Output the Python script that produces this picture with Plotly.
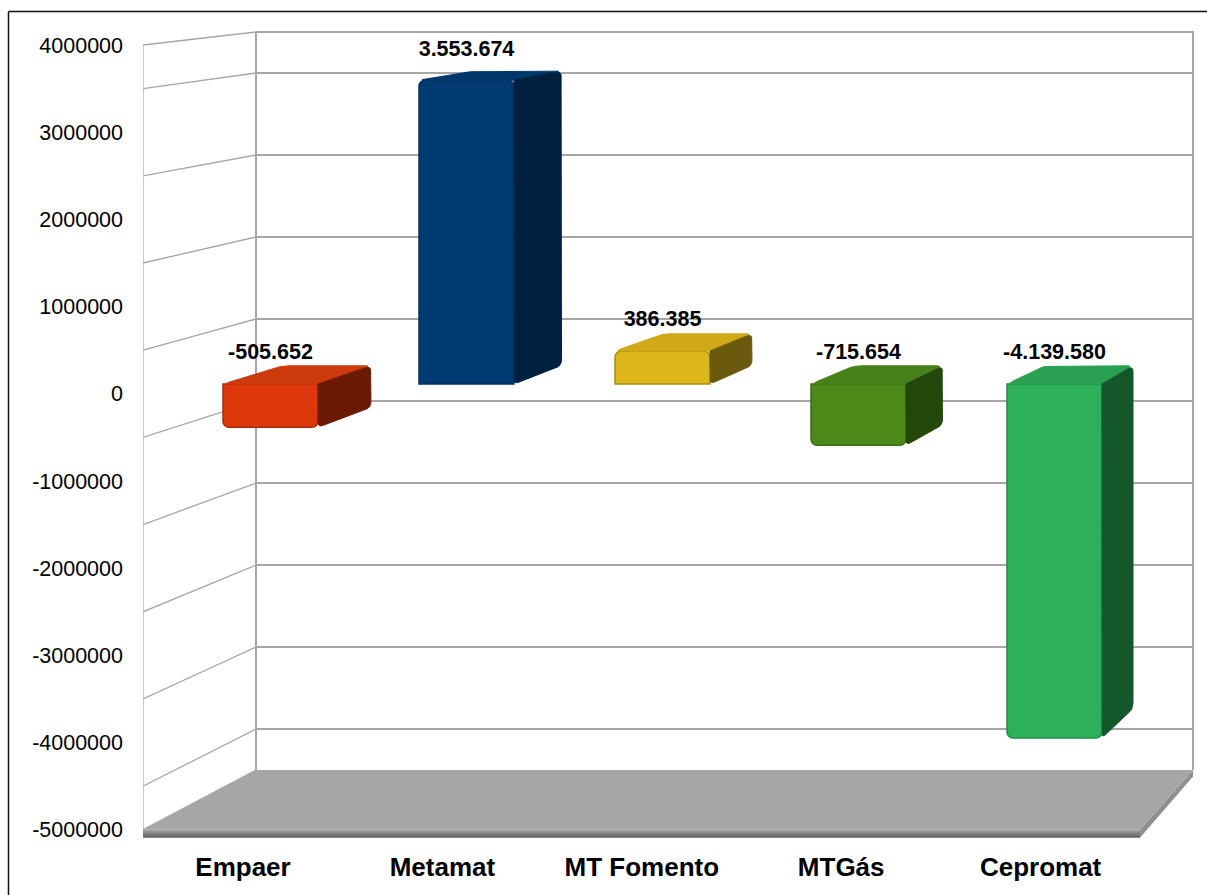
import plotly.graph_objects as go

# ---- data ----
categories = ["Empaer", "Metamat", "MT Fomento", "MTGás", "Cepromat"]
values = [-505652, 3553674, 386385, -715654, -4139580]
y_tick_values = [4000000, 3000000, 2000000, 1000000, 0, -1000000, -2000000, -3000000, -4000000, -5000000]
wall_levels = [3500000, 2500000, 1500000, 500000, -500000, -1500000, -2500000, -3500000, -4500000]

# ---- styles ----
front_colors = ["#DC380B", "#003A73", "#DDB61B", "#4B8A19", "#2DB05A"]
top_colors = ["#CC3A0E", "#00376B", "#CFA917", "#468219", "#2AA052"]
side_colors = ["#6B1B05", "#00203F", "#6B5A0D", "#24470B", "#14572B"]
edge_colors = ["#A82A08", "#002F5E", "#A88C12", "#3A6E12", "#238A47"]
GRID = "#A6A6A6"
FONT = "Liberation Sans"

W, H = 1207, 895
L, R, T, B = 143, 1197, 20, 845   # plot area, pixels


def x1_from_px(p):
    return (p - 243) / 199.4


def y1_from_px(p):
    return (393.8 - p) / 87.2 * 1e6


def x2_from_px(p):
    return (p - 270.5) / 196


def y2_from_px(p):
    return (384 - p) / 85.5 * 1e6


def back_v_wall(v):
    # wall levels on the back plane, expressed on the tick scale
    return 0.3876e6 + 0.9404 * v


HALF = 95 / 196 / 2
BACK_HALF = 44 / 196


def back_x(i):
    return 0.288 + 0.972 * i


def back_v(v):
    return 0.2129e6 + 0.9696 * v


def rounded(xs, ys, radii, n=4):
    sx, sy = 196.0, 85.5e-6
    P = [(x * sx, y * sy) for x, y in zip(xs, ys)]
    out = []
    m = len(P)
    for k in range(m):
        a, b, c = P[k - 1], P[k], P[(k + 1) % m]
        r = radii[k]
        if r == 0:
            out.append(b)
            continue

        def toward(p, q):
            d = ((q[0] - p[0]) ** 2 + (q[1] - p[1]) ** 2) ** 0.5
            t = min(r, d / 2) / d if d else 0
            return (p[0] + (q[0] - p[0]) * t, p[1] + (q[1] - p[1]) * t)

        s, e = toward(b, a), toward(b, c)
        for j in range(n + 1):
            t = j / n
            out.append(((1 - t) ** 2 * s[0] + 2 * t * (1 - t) * b[0] + t * t * e[0],
                        (1 - t) ** 2 * s[1] + 2 * t * (1 - t) * b[1] + t * t * e[1]))
    out.append(out[0])
    return [p[0] / sx for p in out], [p[1] / sy for p in out]


fig = go.Figure()

# ---- walls and floor on the tick scale ----
x_front_l, x_front_r = x1_from_px(143), x1_from_px(1140)
x_back_l, x_back_r = x1_from_px(256), x1_from_px(1193)
top_v, floor_v = y_tick_values[0], y_tick_values[-1]

gx, gy = [], []
for v in wall_levels:
    gx += [x_back_l, x_back_r, None]
    gy += [back_v_wall(v), back_v_wall(v), None]
fig.add_trace(go.Scatter(x=gx, y=gy, mode="lines", line=dict(color=GRID, width=2), hoverinfo="skip", showlegend=False))

dx, dy = [], []
for v in [top_v] + wall_levels + [floor_v]:
    dx += [x_front_l, x_back_l, None]
    dy += [v, back_v_wall(v), None]
fig.add_trace(go.Scatter(x=dx, y=dy, mode="lines", line=dict(color=GRID, width=1.3), hoverinfo="skip", showlegend=False))

fig.add_trace(go.Scatter(x=[x_front_l, x_front_l], y=[top_v, floor_v], mode="lines",
                         line=dict(color=GRID, width=1.2), hoverinfo="skip", showlegend=False))
fig.add_trace(go.Scatter(x=[x_back_l, x_back_r, x_back_r, None, x_back_l, x_back_l],
                         y=[back_v_wall(top_v), back_v_wall(top_v), back_v_wall(floor_v), None,
                            back_v_wall(top_v), back_v_wall(floor_v)],
                         mode="lines", line=dict(color=GRID, width=2), hoverinfo="skip", showlegend=False))

# floor bevel strips
thick = y1_from_px(838) - y1_from_px(830)
fig.add_trace(go.Scatter(
    x=[x_back_r, x_back_r, x_front_r, x_front_r, x_back_r],
    y=[back_v_wall(floor_v), back_v_wall(floor_v) + thick * 0.8, floor_v + thick, floor_v, back_v_wall(floor_v)],
    mode="lines", fill="toself", fillcolor="#8F8F8F", line=dict(width=0), hoverinfo="skip", showlegend=False))
fig.add_trace(go.Scatter(
    x=[x_front_l, x_front_r, x_front_r, x_front_l, x_front_l],
    y=[floor_v, floor_v, floor_v + thick, floor_v + thick, floor_v],
    mode="lines", fill="toself",
    fillgradient=dict(type="vertical", colorscale=[[0, "#5E5E5E"], [0.5, "#808080"], [1, "#A6A6A6"]]),
    line=dict(width=0), hoverinfo="skip", showlegend=False))
# floor surface
fig.add_trace(go.Scatter(
    x=[x_front_l, x_back_l, x_back_r, x_front_r, x_front_l],
    y=[floor_v, back_v_wall(floor_v), back_v_wall(floor_v), floor_v, floor_v],
    mode="lines", fill="toself", fillcolor="#A6A6A6", line=dict(width=0), hoverinfo="skip", showlegend=False))

# ---- bars: front faces ----
idx = list(range(len(categories)))
fig.add_trace(go.Bar(
    x=idx, y=values, width=HALF * 2, xaxis="x2", yaxis="y2",
    marker=dict(color=front_colors, line=dict(color=edge_colors, width=1.5)),
    hoverinfo="skip", showlegend=False))

# ---- bars: top and side faces, projected from the values ----
for i, v in enumerate(values):
    hi, lo = max(v, 0), min(v, 0)
    tx, ty = rounded([i - HALF, i + HALF, back_x(i) + BACK_HALF, back_x(i) - BACK_HALF],
                     [hi, hi, back_v(hi), back_v(hi)], [6, 0, 6, 6])
    fig.add_trace(go.Scatter(x=tx, y=ty, xaxis="x2", yaxis="y2", mode="lines", fill="toself",
                             fillcolor=top_colors[i], line=dict(color=top_colors[i], width=1),
                             hoverinfo="skip", showlegend=False))
    sx_, sy_ = rounded([i + HALF, i + HALF, back_x(i) + BACK_HALF, back_x(i) + BACK_HALF],
                       [hi, lo, back_v(lo), back_v(hi)], [0, 5, 6, 6])
    fig.add_trace(go.Scatter(x=sx_, y=sy_, xaxis="x2", yaxis="y2", mode="lines", fill="toself",
                             fillcolor=side_colors[i], line=dict(color=side_colors[i], width=1),
                             hoverinfo="skip", showlegend=False))

# ---- value labels ----
label_lift = (384 - 354) / 85.5 * 1e6
fig.add_trace(go.Scatter(
    x=idx, y=[max(v, 0) + label_lift for v in values], xaxis="x2", yaxis="y2",
    mode="text", text=[f"{v:,}".replace(",", ".") for v in values], textposition="middle center",
    textfont=dict(family=FONT, size=21.5, color="black", weight="bold"), cliponaxis=False,
    hoverinfo="skip", showlegend=False))


def paper_x(p):
    return (p - L) / (R - L)


def paper_y(p):
    return (B - p) / (B - T)


frame = dict(type="line", xref="paper", yref="paper", line=dict(color="#111111", width=1.5), layer="above")
shapes = [
    dict(frame, x0=paper_x(8.5), x1=paper_x(W), y0=paper_y(11.5), y1=paper_y(11.5)),
    dict(frame, x0=paper_x(8.5), x1=paper_x(8.5), y0=paper_y(11.5), y1=paper_y(H)),
]

fig.update_layout(
    width=W, height=H, autosize=False,
    margin=dict(l=L, r=W - R, t=T, b=H - B, pad=0),
    paper_bgcolor="white", plot_bgcolor="white",
    barcornerradius=6, showlegend=False, shapes=shapes,
    xaxis=dict(range=[x1_from_px(L), x1_from_px(R)], tickmode="array", tickvals=idx, ticktext=categories,
               showgrid=False, zeroline=False, showline=False, ticks="", ticklabelstandoff=4,
               tickangle=0, tickfont=dict(family=FONT, size=26, color="black", weight="bold")),
    yaxis=dict(range=[y1_from_px(B), y1_from_px(T)], tickmode="array", tickvals=y_tick_values,
               ticktext=[str(v) for v in y_tick_values],
               showgrid=False, zeroline=False, showline=False, ticks="", ticklabelstandoff=19,
               tickfont=dict(family=FONT, size=21.5, color="black")),
    xaxis2=dict(range=[x2_from_px(L), x2_from_px(R)], overlaying="x", visible=False),
    yaxis2=dict(range=[y2_from_px(B), y2_from_px(T)], overlaying="y", visible=False),
)

fig.write_html("out.html", post_script="document.body.style.margin='0';", config={"displayModeBar": False})
